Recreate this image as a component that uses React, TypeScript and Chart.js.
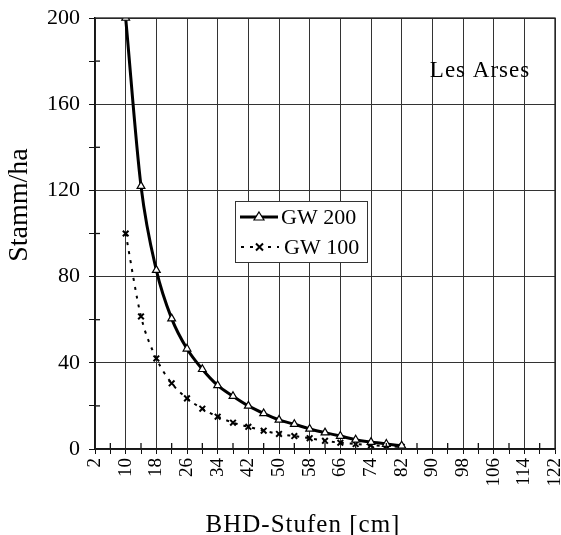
import React, { useEffect, useRef } from "react";
import { Chart, registerables } from "chart.js";

Chart.register(...registerables);

const diameters = [10, 14, 18, 22, 26, 30, 34, 38, 42, 46, 50, 54, 58, 62, 66, 70, 74, 78, 82];
const gw200 = [200, 122, 83, 60.5, 46.5, 37, 29.5, 24.5, 20, 16.5, 13.5, 11.5, 9.3, 7.6, 6, 4.3, 3.2, 2.3, 1.5];
const gw100 = [100, 61.5, 42, 30.5, 23.5, 18.7, 15, 12.2, 10.3, 8.5, 7, 6, 5, 3.8, 2.9, 2.3, 1.8, 1.3, 1.0];
const seriesNames = ["GW 200", "GW 100"];
const xMin = 2;
const xMax = 122;
const xStep = 4;
const xLabelStep = 8;
const yMin = 0;
const yMax = 200;
const yStep = 20;
const yLabelStep = 40;
const xTitle = "BHD-Stufen [cm]";
const yTitle = "Stamm/ha";
const siteLabel = "Les Arses";

const FONT = "'Liberation Serif', 'DejaVu Serif', serif";

const decorPlugin = {
  id: "decor",
  afterDraw(chart: any) {
    const ctx = chart.ctx;
    const ca = chart.chartArea;
    const xs = chart.scales.x;
    const ys = chart.scales.y;
    ctx.save();
    // inner parts of minor ticks
    ctx.strokeStyle = "#111";
    ctx.lineWidth = 1.3;
    for (let v = xMin; v <= xMax; v += xStep) {
      if ((v - xMin) % xLabelStep === 0) continue;
      const px = xs.getPixelForValue(v);
      ctx.beginPath();
      ctx.moveTo(px, ca.bottom);
      ctx.lineTo(px, ca.bottom - 6);
      ctx.stroke();
    }
    for (let v = yMin; v <= yMax; v += yStep) {
      if (v % yLabelStep === 0) continue;
      const py = ys.getPixelForValue(v);
      ctx.beginPath();
      ctx.moveTo(ca.left, py);
      ctx.lineTo(ca.left + 5, py);
      ctx.stroke();
    }
    // frame
    ctx.strokeStyle = "#222";
    ctx.lineWidth = 1.3;
    ctx.strokeRect(ca.left, ca.top, ca.right - ca.left, ca.bottom - ca.top);

    // site label
    ctx.fillStyle = "#000";
    ctx.font = `23px ${FONT}`;
    ctx.textAlign = "center";
    ctx.textBaseline = "alphabetic";
    try { (ctx as any).letterSpacing = "1px"; } catch (e) {}
    ctx.fillText(siteLabel, 480, 77);

    // axis titles
    ctx.font = `25px ${FONT}`;
    ctx.fillText(xTitle, 303, 532);
    ctx.save();
    ctx.translate(27, 205);
    ctx.rotate(-Math.PI / 2);
    ctx.font = `28px ${FONT}`;
    try { (ctx as any).letterSpacing = "0px"; } catch (e) {}
    ctx.fillText(yTitle, 0, 0);
    ctx.restore();
    try { (ctx as any).letterSpacing = "0px"; } catch (e) {}

    // legend
    const bx = 235, by = 201, bw = 132, bh = 61;
    ctx.fillStyle = "#fff";
    ctx.fillRect(bx, by, bw, bh);
    ctx.strokeStyle = "#333";
    ctx.lineWidth = 1;
    ctx.strokeRect(bx + 0.5, by + 0.5, bw, bh);
    const rows = [217, 247];
    // row 1: solid + triangle
    ctx.strokeStyle = "#000";
    ctx.lineWidth = 3;
    ctx.setLineDash([]);
    ctx.beginPath();
    ctx.moveTo(240, rows[0]);
    ctx.lineTo(278, rows[0]);
    ctx.stroke();
    ctx.lineWidth = 1.2;
    ctx.fillStyle = "#fff";
    ctx.beginPath();
    ctx.moveTo(259, rows[0] - 5);
    ctx.lineTo(264, rows[0] + 3);
    ctx.lineTo(254, rows[0] + 3);
    ctx.closePath();
    ctx.fill();
    ctx.stroke();
    // row 2: dashed + x
    ctx.lineWidth = 2;
    ctx.setLineDash([3, 6]);
    ctx.beginPath();
    ctx.moveTo(241, rows[1]);
    ctx.lineTo(279, rows[1]);
    ctx.stroke();
    ctx.setLineDash([]);
    ctx.fillStyle = "#fff";
    ctx.fillRect(253, rows[1] - 5, 12, 10);
    ctx.lineWidth = 2;
    ctx.beginPath();
    ctx.moveTo(256, rows[1] - 3.5);
    ctx.lineTo(263, rows[1] + 3.5);
    ctx.moveTo(263, rows[1] - 3.5);
    ctx.lineTo(256, rows[1] + 3.5);
    ctx.stroke();
    ctx.fillStyle = "#000";
    ctx.font = `22px ${FONT}`;
    ctx.textAlign = "left";
    ctx.textBaseline = "middle";
    ctx.fillText(seriesNames[0], 281, rows[0] + 1);
    ctx.fillText(seriesNames[1], 284, rows[1] + 1);
    ctx.restore();
  },
};

export default function App() {
  const ref = useRef<HTMLCanvasElement | null>(null);
  useEffect(() => {
    if (!ref.current) return;
    const chart = new Chart(ref.current, {
      type: "line",
      data: {
        datasets: [
          {
            label: seriesNames[0],
            data: diameters.map((d, i) => ({ x: d, y: gw200[i] })),
            borderColor: "#000",
            borderWidth: 3,
            pointStyle: "triangle",
            pointRadius: 4.5,
            pointBorderWidth: 1.2,
            pointBackgroundColor: "#fff",
            pointBorderColor: "#000",
            cubicInterpolationMode: "monotone",
            fill: false,
          },
          {
            label: seriesNames[1],
            data: diameters.map((d, i) => ({ x: d, y: gw100[i] })),
            borderColor: "#000",
            borderWidth: 2,
            borderDash: [3, 6],
            pointStyle: "crossRot",
            pointRadius: 4,
            pointBorderWidth: 2,
            pointBorderColor: "#000",
            cubicInterpolationMode: "monotone",
            fill: false,
          },
        ],
      },
      options: {
        animation: false,
        responsive: false,
        layout: { padding: { top: 18, right: 6, left: 0, bottom: 0 } },
        plugins: { legend: { display: false }, tooltip: { enabled: false } },
        scales: {
          x: {
            type: "linear",
            min: xMin,
            max: xMax,
            afterFit(scale: any) {
              scale.height = 86;
              scale.paddingRight = 0;
              scale.paddingLeft = 0;
            },
            ticks: {
              stepSize: xStep,
              autoSkip: false,
              minRotation: 90,
              maxRotation: 90,
              padding: 4,
              color: "#000",
              font: { family: FONT, size: 19, lineHeight: 1 },
              callback: (v: any) => ((Number(v) - xMin) % xLabelStep === 0 ? String(v) : ""),
            },
            grid: {
              color: (c: any) => (c.tick && (c.tick.value - xMin) % xLabelStep === 0 ? "#333" : "rgba(0,0,0,0)"),
              tickColor: "#111",
              lineWidth: 1,
              tickLength: 5,
              drawTicks: true,
            },
            border: { color: "#000", width: 1.5 },
          },
          y: {
            type: "linear",
            min: yMin,
            max: yMax,
            afterFit(scale: any) {
              scale.width = 95;
              scale.paddingTop = 0;
              scale.paddingBottom = 0;
            },
            ticks: {
              stepSize: yStep,
              padding: 9,
              color: "#000",
              font: { family: FONT, size: 22 },
              callback: (v: any) => (Number(v) % yLabelStep === 0 ? String(v) : ""),
            },
            grid: {
              color: (c: any) => (c.tick && c.tick.value % yLabelStep === 0 ? "#333" : "rgba(0,0,0,0)"),
              tickColor: "#111",
              lineWidth: 1,
              tickLength: 6,
            },
            border: { color: "#000", width: 1.5 },
          },
        },
      },
      plugins: [decorPlugin],
    } as any);
    return () => chart.destroy();
  }, []);
  return (
    <div style={{ position: "absolute", left: 0, top: 0, width: 561, height: 535, background: "#fff" }}>
      <canvas ref={ref} width={561} height={535} style={{ display: "block" }} />
    </div>
  );
}
